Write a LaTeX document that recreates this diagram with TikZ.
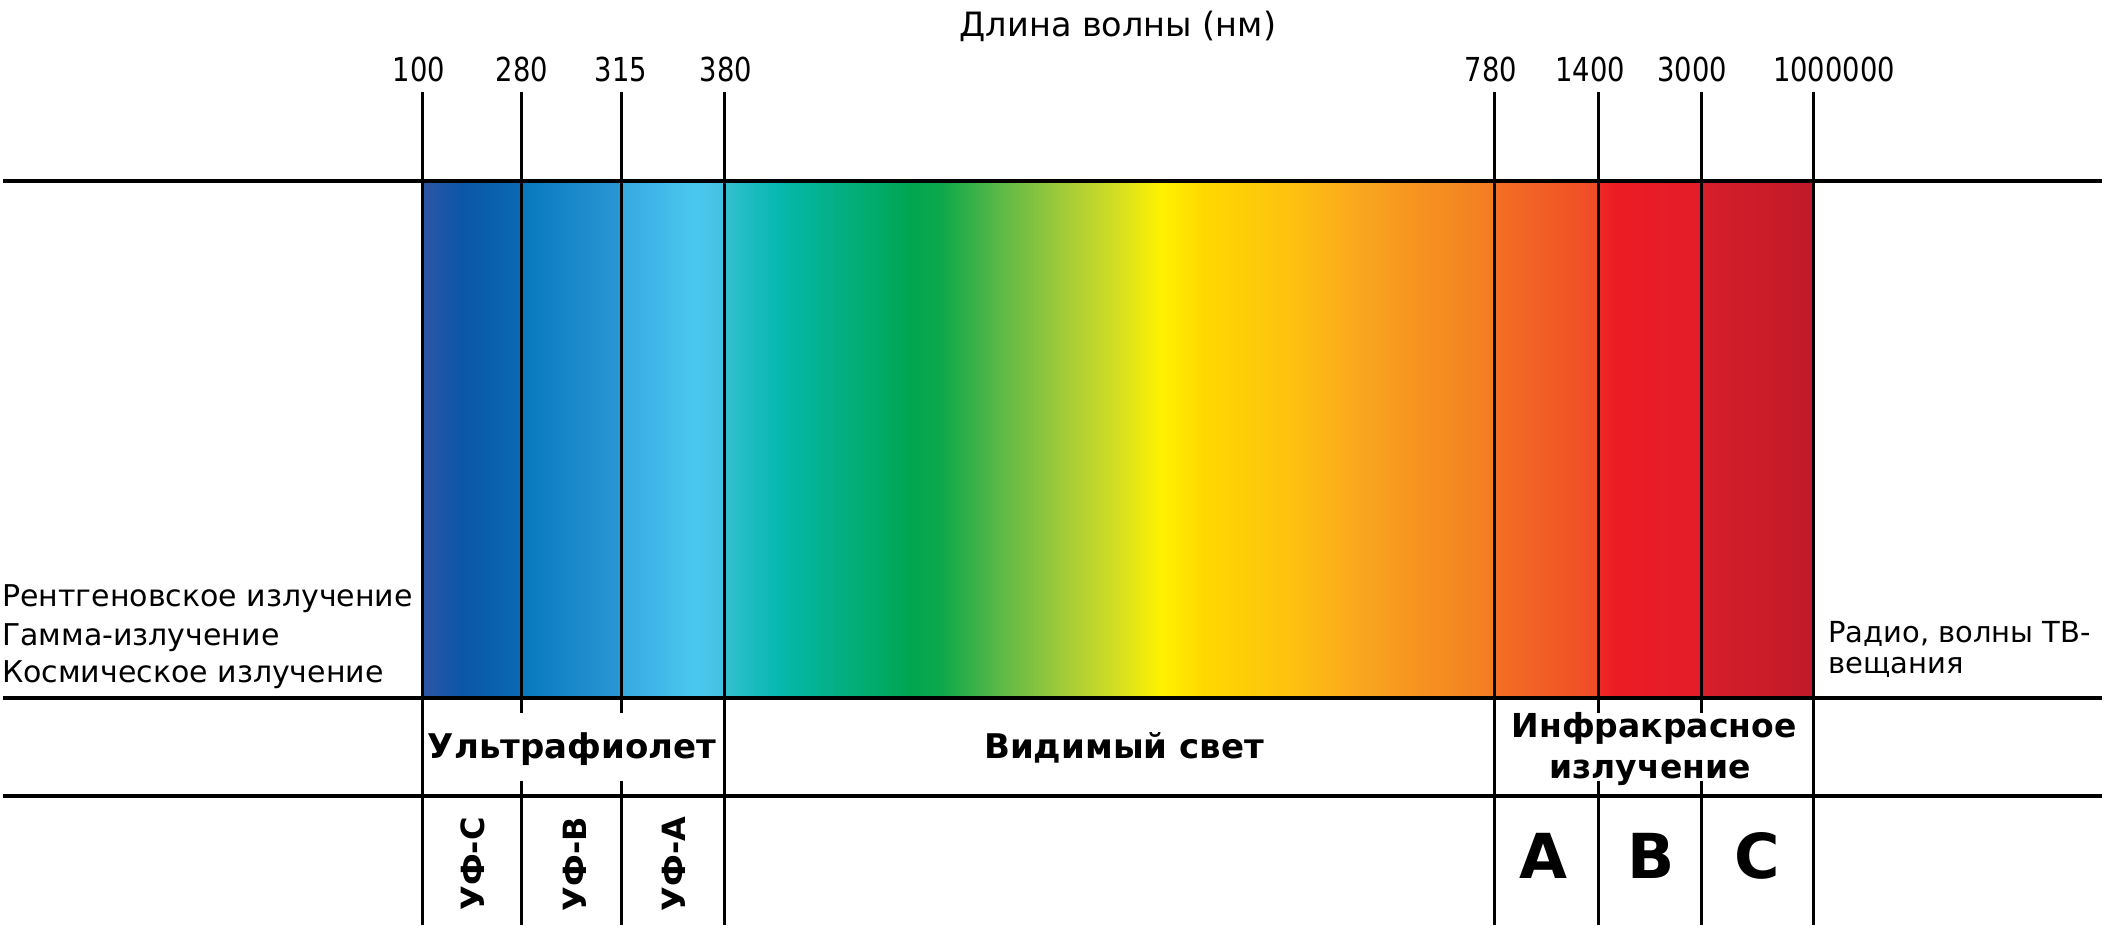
\documentclass[tikz,border=0pt]{standalone}
\usepackage{fontspec}
\usepackage{xcolor}
\setmainfont{DejaVu Sans}
\newfontfamily\numfont[FakeStretch=0.83]{DejaVu Sans}
\usetikzlibrary{positioning,calc}

% spectrum colours, left to right
\definecolor{sa}{HTML}{2E55A5}
\definecolor{sb}{HTML}{0A57A8}
\definecolor{sc}{HTML}{0A6AB2}
\definecolor{sd}{HTML}{0878BE}
\definecolor{se}{HTML}{2A98D4}
\definecolor{sf}{HTML}{36A8E0}
\definecolor{sg}{HTML}{4BC8F0}
\definecolor{sh}{HTML}{46C0E0}
\definecolor{si}{HTML}{34C0D0}
\definecolor{sj}{HTML}{06B8B0}
\definecolor{sk}{HTML}{00A650}
\definecolor{sl}{HTML}{0EA84A}
\definecolor{sm}{HTML}{5AB848}
\definecolor{sn}{HTML}{A6CC38}
\definecolor{so}{HTML}{D8E020}
\definecolor{sp}{HTML}{FFF200}
\definecolor{sq}{HTML}{FFD800}
\definecolor{sr}{HTML}{FEC010}
\definecolor{ss}{HTML}{F9A51F}
\definecolor{st}{HTML}{F37C22}
\definecolor{su}{HTML}{F36F24}
\definecolor{sv}{HTML}{EF4B26}
\definecolor{sw}{HTML}{EE2A26}
\definecolor{sx}{HTML}{ED1C24}
\definecolor{sy}{HTML}{E21D2A}
\definecolor{sz}{HTML}{D81E2B}
\definecolor{szz}{HTML}{C01A2A}

\tikzset{
    hline/.style={line width=4pt},
    vline/.style={line width=3pt},
    num/.style={anchor=base, inner sep=0, font=\numfont\fontsize{33}{33}\selectfont},
    side/.style={anchor=base west, inner sep=0, font=\fontsize{30}{30}\selectfont},
    band/.style={anchor=base, inner sep=0, font=\bfseries\fontsize{34}{34}\selectfont},
    subband/.style={rotate=90, inner sep=0, font=\bfseries\fontsize{32}{32}\selectfont},
    irband/.style={anchor=base, inner sep=0, font=\bfseries\fontsize{62}{62}\selectfont}
}

\begin{document}
\begin{tikzpicture}[x=1pt, y=-1pt]
    \useasboundingbox[fill=white] (0,0) rectangle (2114,938);

    % Spectrum band
    \foreach \xa/\ca/\xb/\cb in {422/sa/462/sb, 462/sb/521/sc, 521/sd/621/se,
        621/sf/694/sg, 694/sg/724/sh, 724/si/776/sj, 776/sj/910/sk, 910/sk/942/sl,
        942/sl/997/sm, 997/sm/1066/sn, 1066/sn/1120/so, 1120/so/1160/sp,
        1160/sp/1202/sq, 1202/sq/1294/sr, 1294/sr/1362/ss, 1362/ss/1494/st,
        1494/su/1598/sv, 1598/sw/1615/sx, 1615/sx/1700/sy, 1700/sz/1813/szz} {
        \shade[left color=\ca, right color=\cb] (\xa,181) rectangle (\xb+1,698);
    }

    % Rows
    \foreach \y in {181,698,796} {
        \draw[hline] (3,\y) -- (2102,\y);
    }

    % Wavelength marks
    \foreach \x in {422,724,1494,1813} {
        \draw[vline] (\x,92) -- (\x,925);
    }
    \foreach \x in {521,621,1598,1701} {
        \draw[vline] (\x,92) -- (\x,713);
        \draw[vline] (\x,781) -- (\x,925);
    }

    % Wavelength values
    \node[anchor=base, inner sep=0, font=\fontsize{33.5}{33.5}\selectfont] (title) at (1118,36) {Длина волны (нм)};
    \foreach \x/\n in {419/100, 522/280, 621/315, 726/380, 1491/780, 1590/1400, 1692/3000, 1834/1000000} {
        \node[num] (n\n) at (\x,81) {\n};
    }

    % Outside the band
    \node[side] (xray) at (2,606) {Рентгеновское излучение};
    \node[side] (gamma) at (2,645) {Гамма-излучение};
    \node[side] (cosmic) at (2,682) {Космическое излучение};
    \node[side, font=\fontsize{29}{29}\selectfont] (radio) at (1828,642) {Радио, волны ТВ-};
    \node[side, font=\fontsize{29}{29}\selectfont] (tv) at (1828,673) {вещания};

    % Ranges
    \node[band] (uv) at (572,758) {Ультрафиолет};
    \node[band] (vis) at (1124,758) {Видимый свет};
    \node[band, font=\bfseries\fontsize{33}{33}\selectfont] (ir1) at (1654,737) {Инфракрасное};
    \node[band, font=\bfseries\fontsize{33}{33}\selectfont] (ir2) at (1650,778) {излучение};

    % Sub-ranges
    \node[subband] (uvc) at (473,864) {УФ-С};
    \node[subband] (uvb) at (575,864) {УФ-В};
    \node[subband] (uva) at (674,864) {УФ-А};
    \node[irband] (ira) at (1543,878) {A};
    \node[irband] (irb) at (1651,878) {B};
    \node[irband] (irc) at (1757,878) {C};
\end{tikzpicture}
\end{document}
